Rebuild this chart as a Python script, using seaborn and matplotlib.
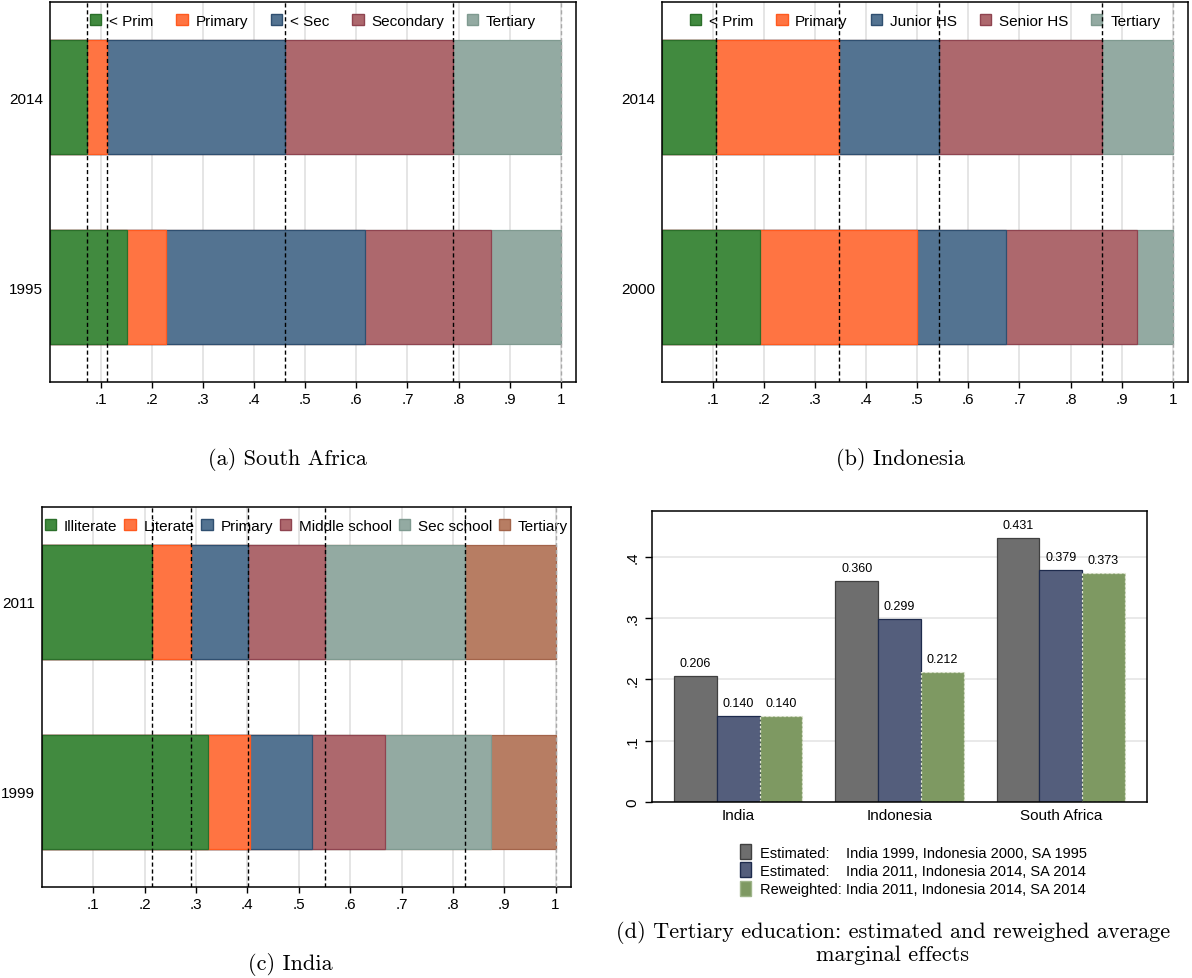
import matplotlib
matplotlib.use("Agg")
import matplotlib.pyplot as plt
from matplotlib.patches import Patch
import pandas as pd
import seaborn as sns
import numpy as np

# shares of each education level
sa_levels = ["< Prim", "Primary", "< Sec", "Secondary", "Tertiary"]
sa_years = ["2014", "1995"]
sa_2014 = [0.072, 0.040, 0.349, 0.329, 0.210]
sa_1995 = [0.150, 0.078, 0.389, 0.246, 0.137]

id_levels = ["< Prim", "Primary", "Junior HS", "Senior HS", "Tertiary"]
id_years = ["2014", "2000"]
id_2014 = [0.106, 0.240, 0.197, 0.318, 0.139]
id_2000 = [0.192, 0.308, 0.173, 0.257, 0.070]

in_levels = ["Illiterate", "Literate", "Primary", "Middle school", "Sec school", "Tertiary"]
in_years = ["2011", "1999"]
in_2011 = [0.215, 0.075, 0.111, 0.150, 0.272, 0.177]
in_1999 = [0.323, 0.082, 0.121, 0.142, 0.206, 0.126]

countries = ["India", "Indonesia", "South Africa"]
series = ["Estimated:    India 1999, Indonesia 2000, SA 1995",
          "Estimated:    India 2011, Indonesia 2014, SA 2014",
          "Reweighted: India 2011, Indonesia 2014, SA 2014"]
est_early = [0.206, 0.360, 0.431]
est_late = [0.140, 0.299, 0.379]
reweighted = [0.140, 0.212, 0.373]

fills = ["#418a3f", "#ff7442", "#537391", "#ad686d", "#93aaa2", "#b77d63"]
edges = ["#2b6f2a", "#ff5a1f", "#2f4f70", "#8f4450", "#7f9a90", "#a3644a"]

sns.set_style("white")
plt.rcParams['font.family'] = ['Liberation Sans', 'DejaVu Sans']
plt.rcParams['text.color'] = 'black'
plt.rcParams['xtick.color'] = 'black'
plt.rcParams['ytick.color'] = 'black'

W, H = 1192, 979
fig = plt.figure(figsize=(W / 100, H / 100), dpi=100)


def px_axes(left, top, right, bottom):
    return fig.add_axes([left / W, 1 - bottom / H, (right - left) / W, (bottom - top) / H])


def stacked(ax, levels, years, late, early):
    df = pd.DataFrame({"year": np.repeat(years, len(levels)),
                       "level": levels * 2,
                       "share": late + early})
    df["cum"] = df.groupby("year")["share"].cumsum()
    handles = []
    # draw widest (cumulative) first so the shorter ones sit on top
    for i in range(len(levels) - 1, -1, -1):
        sub = df[df["level"] == levels[i]]
        sns.barplot(data=sub, x="cum", y="year", order=years, color=fills[i],
                    saturation=1, width=0.6, edgecolor=edges[i], linewidth=0.9,
                    ax=ax, errorbar=None)
        handles.append(Patch(facecolor=fills[i], edgecolor=edges[i], label=levels[i]))
    handles = handles[::-1]
    cum_late = np.cumsum(late)
    for j, c in enumerate(cum_late):
        last = j == len(cum_late) - 1
        ax.axvline(min(c, 1.0), color="#a8a8a8" if last else "black", lw=1.0,
                   ls=(0, (3, 2)), zorder=6)
    ax.set_xlim(0, 1.03)
    ax.set_ylim(1.5, -0.5)
    ax.set_xticks(np.arange(0.1, 1.01, 0.1))
    ax.set_xticklabels([".1", ".2", ".3", ".4", ".5", ".6", ".7", ".8", ".9", "1"])
    ax.grid(axis="x", color="#dedede", lw=1.1)
    ax.set_axisbelow(True)
    ax.set_xlabel("")
    ax.set_ylabel("")
    ax.tick_params(axis="x", length=4, width=1, labelsize=11, pad=3, bottom=True)
    ax.tick_params(axis="y", length=0, labelsize=11, pad=5)
    for s in ax.spines.values():
        s.set_linewidth(1.1)
        s.set_color("black")
    leg = ax.legend(handles=handles, ncol=len(levels), loc="upper center",
                    bbox_to_anchor=(0.5, 1.0), frameon=False, fontsize=11,
                    handlelength=0.75, handleheight=0.75, handletextpad=0.5,
                    columnspacing=1.5 if len(levels) == 5 else 0.45,
                    borderaxespad=0.4)
    leg.set_zorder(3)


ax_a = px_axes(50, 3, 576, 383)
stacked(ax_a, sa_levels, sa_years, sa_2014, sa_1995)

ax_b = px_axes(662, 3, 1188, 383)
stacked(ax_b, id_levels, id_years, id_2014, id_2000)

ax_c = px_axes(42, 508, 571, 888)
stacked(ax_c, in_levels, in_years, in_2011, in_1999)

# panel d
ax_d = px_axes(652, 512, 1147, 803)
dfd = pd.DataFrame({"country": countries * 3,
                    "series": np.repeat(series, 3),
                    "value": est_early + est_late + reweighted})
sns.barplot(data=dfd, x="country", y="value", hue="series",
            palette=["#6e6e6e", "#545e7c", "#7e9962"], saturation=1,
            width=0.795, gap=0, ax=ax_d, errorbar=None, legend=False)
d_edges = ["#404040", "#1e2b4d", "#e3e8d6"]
d_styles = ["-", "-", (0, (2, 1.5))]
for cont, ec, ls in zip(ax_d.containers, d_edges, d_styles):
    for bar in cont:
        bar.set_edgecolor(ec)
        bar.set_linewidth(0.9)
        bar.set_linestyle(ls)
    ax_d.bar_label(cont, fmt="%.3f", padding=5, fontsize=9)
ax_d.set_ylim(0, 0.4745)
ax_d.set_xlim(-0.535, 2.535)
ax_d.set_yticks([0, 0.1, 0.2, 0.3, 0.4])
ax_d.set_yticklabels(["0", ".1", ".2", ".3", ".4"], rotation=90, va="center")
ax_d.grid(axis="y", color="#e3e3e3", lw=1.1)
ax_d.set_axisbelow(True)
ax_d.set_xlabel("")
ax_d.set_ylabel("")
ax_d.tick_params(axis="y", length=5, width=1, labelsize=11, pad=4, left=True)
ax_d.tick_params(axis="x", length=0, labelsize=11, pad=4)
for s in ax_d.spines.values():
    s.set_linewidth(1.1)
    s.set_color("black")
d_handles = [Patch(facecolor=f, edgecolor=e, label=s)
             for f, e, s in zip(["#6e6e6e", "#545e7c", "#7e9962"],
                                ["#404040", "#1e2b4d", "#9fb58a"], series)]
fig.legend(handles=d_handles, loc="upper left",
           bbox_to_anchor=(727 / W, 1 - 832 / H), frameon=False, fontsize=10.5,
           handlelength=0.75, handleheight=1.2, handletextpad=0.6,
           labelspacing=0.2)

# captions
cap = dict(family="cmr10", fontsize=16, ha="center", va="center")
fig.text(287 / W, 1 - 460 / H, "(a) South Africa", **cap)
fig.text(900 / W, 1 - 460 / H, "(b) Indonesia", **cap)
fig.text(290 / W, 1 - 965 / H, "(c) India", **cap)
fig.text(893 / W, 1 - 943 / H,
         "(d) Tertiary education: estimated and reweighed average\nmarginal effects",
         linespacing=1.1, multialignment="center", **cap)

fig.savefig("out.png", dpi=100)
